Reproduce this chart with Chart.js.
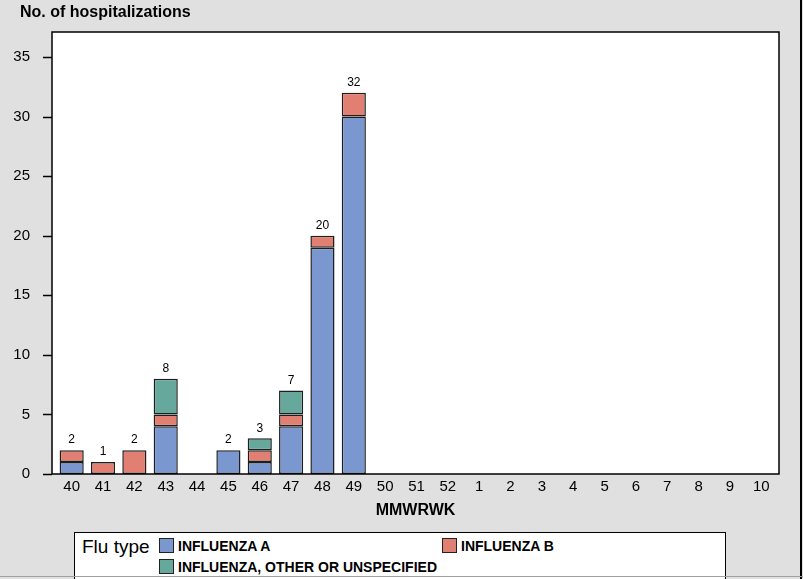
<!DOCTYPE html>
<html>
<head>
<meta charset="utf-8">
<script src="https://cdn.jsdelivr.net/npm/chart.js@4.4.0/dist/chart.umd.min.js"></script>
<style>
  html, body { margin: 0; padding: 0; background: #e0e0e0; }
  #wrap { position: relative; width: 803px; height: 579px; overflow: hidden; font-family: Arial, "Liberation Sans", sans-serif; }
  #chart { position: absolute; left: 0; top: 0; }
  #ytitle { position: absolute; left: 20px; top: 3px; font-size: 16px; font-weight: bold; color: #000; }
  #xtitle { position: absolute; left: 0; width: 831px; top: 501px; text-align: center; font-size: 16px; font-weight: bold; color: #000; }
  #legend { position: absolute; left: 74px; top: 532px; width: 650px; height: 60px; background: #fff; border: 1px solid #000; }
  #legend .lbl { position: absolute; left: 7px; top: 3px; font-size: 19px; color: #000; }
  #legend .item { position: absolute; font-size: 14px; font-weight: bold; color: #000; white-space: nowrap; line-height: 15px; }
  #legend .sw { display: inline-block; width: 13px; height: 13px; border: 1px solid #222; vertical-align: -2px; margin-right: 4px; }
  #rline { position: absolute; left: 800px; top: 0; width: 2px; height: 579px; background: #000; }
  #bline { position: absolute; left: 0; top: 576px; width: 803px; height: 1px; background: #a0a0a0; }
</style>
</head>
<body>
<div id="wrap">
  <canvas id="chart" width="803" height="579"></canvas>
  <div id="ytitle">No. of hospitalizations</div>
  <div id="xtitle">MMWRWK</div>
  <div id="legend">
    <div class="lbl">Flu type</div>
    <div class="item" style="left:84px;top:5px"><span class="sw" style="background:#7b97d0"></span>INFLUENZA A</div>
    <div class="item" style="left:367px;top:5px"><span class="sw" style="background:#e07f72"></span>INFLUENZA B</div>
    <div class="item" style="left:84px;top:26px"><span class="sw" style="background:#66a89b"></span>INFLUENZA, OTHER OR UNSPECIFIED</div>
  </div>
  <div id="rline"></div>
  <div id="bline"></div>
</div>
<script>
const weeks  = ['40', '41', '42', '43', '44', '45', '46', '47', '48', '49', '50', '51', '52',
                '1', '2', '3', '4', '5', '6', '7', '8', '9', '10'];
const fluA   = [1, 0, 0, 4, 0, 2, 1, 4, 19, 30, 0, 0, 0, 0, 0, 0, 0, 0, 0, 0, 0, 0, 0];
const fluB   = [1, 1, 2, 1, 0, 0, 1, 1, 1, 2, 0, 0, 0, 0, 0, 0, 0, 0, 0, 0, 0, 0, 0];
const fluOth = [0, 0, 0, 3, 0, 0, 1, 2, 0, 0, 0, 0, 0, 0, 0, 0, 0, 0, 0, 0, 0, 0, 0];
const yTicks = [0, 5, 10, 15, 20, 25, 30, 35];

const totals = weeks.map((w, i) => fluA[i] + fluB[i] + fluOth[i]);

// plot frame sits a little wider than the category band, like the SAS output
const FRAME_L = 52, FRAME_R = 779;

const frameAndTotals = {
    id: 'frameAndTotals',
    beforeDatasetsDraw(chart) {
        const { ctx, chartArea: a } = chart;
        ctx.save();
        ctx.fillStyle = '#fff';
        ctx.fillRect(FRAME_L, a.top, FRAME_R - FRAME_L, a.bottom - a.top);
        ctx.restore();
    },
    afterDatasetsDraw(chart) {
        const { ctx, chartArea: a, scales: { x, y } } = chart;
        ctx.save();
        ctx.strokeStyle = '#000';
        ctx.lineWidth = 1.5;
        ctx.strokeRect(FRAME_L, a.top, FRAME_R - FRAME_L, a.bottom - a.top);
        yTicks.forEach(v => {
            const py = Math.round(y.getPixelForValue(v)) + 0.5;
            ctx.beginPath();
            ctx.moveTo(FRAME_L - 9, py);
            ctx.lineTo(FRAME_L, py);
            ctx.stroke();
        });
        ctx.fillStyle = '#000';
        ctx.font = '12px Arial, "Liberation Sans", sans-serif';
        ctx.textAlign = 'center';
        ctx.textBaseline = 'bottom';
        totals.forEach((t, i) => {
            if (!t) return;
            ctx.fillText(String(t), x.getPixelForValue(i), y.getPixelForValue(t) - 4);
        });
        ctx.restore();
    },
};

const common = { borderColor: '#1e1e1e', borderWidth: 1.5, borderSkipped: false,
                 barPercentage: 0.77, categoryPercentage: 1 };

new Chart(document.getElementById('chart'), {
    type: 'bar',
    data: {
        labels: weeks,
        datasets: [
            { label: 'INFLUENZA A', data: fluA.map(v => v || null), backgroundColor: '#7b97d0', ...common },
            { label: 'INFLUENZA B', data: fluB.map(v => v || null), backgroundColor: '#e07f72', ...common },
            { label: 'INFLUENZA, OTHER OR UNSPECIFIED', data: fluOth.map(v => v || null), backgroundColor: '#66a89b', ...common },
        ],
    },
    options: {
        responsive: false,
        animation: false,
        layout: { padding: { left: 0, top: 32, right: 26, bottom: 75 } },
        plugins: { legend: { display: false }, tooltip: { enabled: false } },
        scales: {
            x: {
                stacked: true,
                grid: { display: false },
                border: { display: false },
                ticks: { color: '#000', font: { size: 15, family: 'Arial, "Liberation Sans", sans-serif' }, padding: -4, maxRotation: 0, autoSkip: false },
                afterFit: (s) => { s.height = 30; },
            },
            y: {
                stacked: true,
                min: 0,
                max: 37.1,
                afterBuildTicks: (s) => { s.ticks = yTicks.map(v => ({ value: v })); },
                grid: { display: false },
                border: { display: false },
                ticks: { color: '#000', font: { size: 15, family: 'Arial, "Liberation Sans", sans-serif' }, padding: 18 },
                afterFit: (s) => { s.width = 56; },
            },
        },
    },
    plugins: [frameAndTotals],
});
</script>
</body>
</html>
